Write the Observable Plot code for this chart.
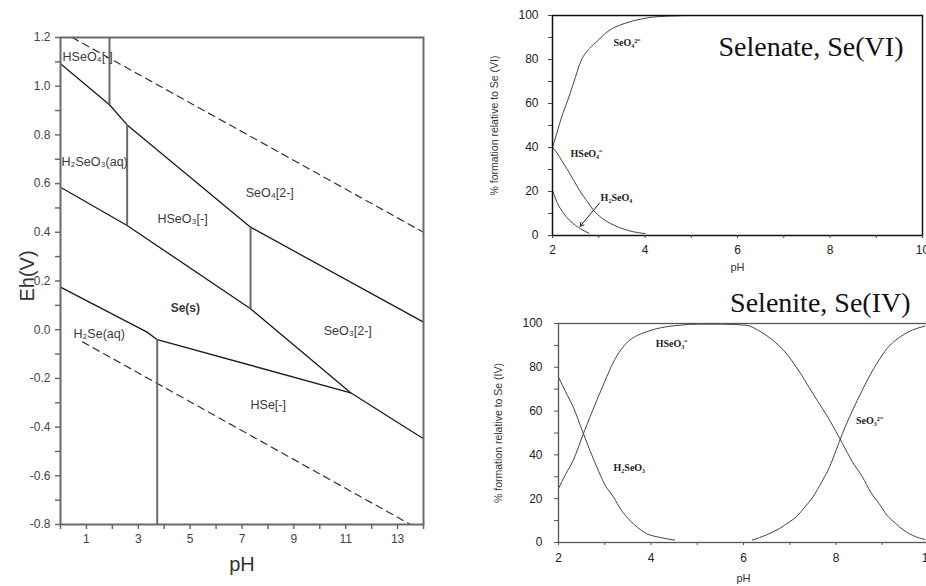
<!DOCTYPE html>
<html><head><meta charset="utf-8">
<script src="https://cdn.jsdelivr.net/npm/d3@7"></script>
<script src="https://cdn.jsdelivr.net/npm/@observablehq/plot@0.6"></script>
<style>
html,body{margin:0;padding:0;background:#fff;overflow:hidden;}
#wrap{position:relative;width:926px;height:586px;overflow:hidden;background:#fff;}
.panel{position:absolute;}
.panel svg{max-width:none;display:block;}
</style></head><body><div id="wrap"></div>
<script>
// ---------- Left panel: Eh–pH (Pourbaix) diagram of Se ----------
const phTickLabels = [1, 3, 5, 7, 9, 11, 13];
const ehTickLabels = [-0.8, -0.6, -0.4, -0.2, 0.0, 0.2, 0.4, 0.6, 0.8, 1.0, 1.2];

const boundary1PH = [0, 1.89, 2.57, 7.33, 14];
const boundary1Eh = [1.092, 0.924, 0.841, 0.421, 0.031];
const boundary2PH = [0, 2.57, 7.33, 11.19, 14];
const boundary2Eh = [0.585, 0.428, 0.086, -0.259, -0.448];
const boundary3PH = [0, 3.34, 3.73, 11.19];
const boundary3Eh = [0.175, -0.010, -0.041, -0.259];

const verticalPH = [1.89, 2.57, 7.33, 3.73];
const verticalEhTop = [1.2, 0.841, 0.421, -0.041];
const verticalEhBottom = [0.924, 0.428, 0.086, -0.8];

const waterUpperPH = [0.45, 14];
const waterUpperEh = [1.2, 0.40];
const waterLowerPH = [0.85, 13.5];
const waterLowerEh = [-0.05, -0.8];

const speciesLabels = ["HSeO₄[-]", "H₂SeO₃(aq)", "SeO₄[2-]", "HSeO₃[-]", "Se(s)", "SeO₃[2-]", "H₂Se(aq)", "HSe[-]"];
const speciesPH = [0.08, 0.04, 7.14, 3.74, 4.25, 10.15, 0.5, 7.33];
const speciesEh = [1.118, 0.687, 0.563, 0.453, 0.087, -0.007, -0.016, -0.311];
const speciesBold = [false, false, false, false, true, false, false, false];

// ---------- Top right: Selenate, Se(VI) speciation ----------
const pctTickLabels = [0, 20, 40, 60, 80, 100];
const phRightTickLabels = [2, 4, 6, 8, 10];

const phSeO4 = [2, 2.1, 2.2, 2.33, 2.45, 2.62, 2.8, 2.98, 3.15, 3.35, 3.55, 3.71, 3.9, 4.07, 4.3, 4.6, 5.0, 10];
const pctSeO4 = [40, 47, 54, 61.5, 69, 79.5, 85, 88.6, 92, 94.7, 96.3, 97.4, 98.3, 99, 99.5, 99.8, 100, 100];
const phHSeO4 = [2, 2.1, 2.2, 2.32, 2.46, 2.6, 2.75, 2.89, 3.05, 3.25, 3.45, 3.65, 3.85, 4.0];
const pctHSeO4 = [40, 37.5, 34, 30, 25, 20, 15.5, 11.4, 8.2, 5.5, 3.6, 2.2, 1.3, 0.9];
const phH2SeO4 = [2, 2.1, 2.25, 2.4, 2.61, 2.79];
const pctH2SeO4 = [20.5, 15, 9.8, 6.3, 3.0, 1.0];

const seVILabels = ["SeO₄²⁻", "HSeO₄⁻", "H₂SeO₄"];
const seVILabelPH = [3.32, 2.39, 3.04];
const seVILabelPct = [87.7, 37.3, 17.3];
const arrowPH = [3.02, 2.6];
const arrowPct = [14.8, 4.2];

// ---------- Bottom right: Selenite, Se(IV) speciation ----------
const phH2SeO3 = [2, 2.15, 2.32, 2.54, 2.83, 3.0, 3.19, 3.35, 3.54, 3.7, 3.9, 4.2, 4.51];
const pctH2SeO3 = [75.5, 69, 61.8, 49.6, 34.4, 26.5, 20.7, 15, 10.2, 7, 4.1, 2.3, 1.1];
const phHSeO3 = [2, 2.15, 2.32, 2.54, 2.83, 3.0, 3.19, 3.35, 3.54, 3.7, 3.9, 4.2, 4.62, 5, 5.5, 6.06, 6.35, 6.63, 6.9, 7.14, 7.5, 7.86, 8.14, 8.35, 8.57, 8.75, 8.93, 9.1, 9.29, 9.47, 9.65, 9.92];
const pctHSeO3 = [24.7, 31, 37.6, 49.8, 65, 73.5, 82.5, 88, 92.4, 94.5, 96.2, 98, 99.2, 99.7, 99.7, 99.2, 96.5, 92.4, 87, 80.2, 68, 55.9, 45.2, 37, 30, 23, 17.8, 12.5, 8.7, 5.5, 3.3, 1.4];
const phSeO3 = [6.19, 6.5, 6.78, 7.0, 7.14, 7.3, 7.5, 7.7, 7.86, 8.0, 8.14, 8.35, 8.57, 8.75, 8.93, 9.1, 9.29, 9.47, 9.65, 9.92];
const pctSeO3 = [1.1, 3.5, 6.4, 9.5, 11.7, 15.5, 20.8, 28, 34.5, 42, 49.8, 60, 69.6, 77, 83.3, 88.5, 92.4, 95, 97, 98.8];

const seIVLabels = ["HSeO₃⁻", "H₂SeO₃", "SeO₃²⁻"];
const seIVLabelPH = [4.10, 3.19, 8.43];
const seIVLabelPct = [90.9, 34.2, 55.7];

// ---------- helpers ----------
const pts = (xs, ys) => xs.map((x, i) => ({x, y: ys[i]}));
const SANS = "'Liberation Sans', Arial, sans-serif";
const SERIF = "'Liberation Serif', 'Times New Roman', serif";
const wrap = document.getElementById("wrap");
function place(svg, left, top) {
  const d = document.createElement("div");
  d.className = "panel";
  d.style.left = left + "px";
  d.style.top = top + "px";
  d.appendChild(svg);
  wrap.appendChild(d);
}

// ---------- Left plot ----------
const boundaryStyle = {x: "x", y: "y", stroke: "#1a1a1a", strokeWidth: 1.3};
const dashStyle = {x: "x", y: "y", stroke: "#333", strokeWidth: 1.2, strokeDasharray: "7,5"};
const speciesData = speciesLabels.map((t, i) => ({t, x: speciesPH[i], y: speciesEh[i], b: speciesBold[i]}));

const left = Plot.plot({
  width: 470, height: 586,
  marginLeft: 60, marginRight: 47, marginTop: 37, marginBottom: 62,
  x: {domain: [0, 14], axis: null, label: null},
  y: {domain: [-0.8, 1.2], axis: null, label: null},
  style: {fontFamily: SANS, background: "transparent", color: "#333", overflow: "visible"},
  marks: [
    Plot.line(pts(waterUpperPH, waterUpperEh), dashStyle),
    Plot.line(pts(waterLowerPH, waterLowerEh), dashStyle),
    Plot.line(pts(boundary1PH, boundary1Eh), boundaryStyle),
    Plot.line(pts(boundary2PH, boundary2Eh), boundaryStyle),
    Plot.line(pts(boundary3PH, boundary3Eh), boundaryStyle),
    Plot.ruleX(verticalPH, {x: d => d, y1: verticalEhTop, y2: verticalEhBottom, stroke: "#6a6a6a", strokeWidth: 2}),
    Plot.text(speciesData.filter(d => !d.b), {x: "x", y: "y", text: "t", textAnchor: "start", fontSize: 12.5, fill: "#3a3a3a"}),
    Plot.text(speciesData.filter(d => d.b), {x: "x", y: "y", text: "t", textAnchor: "start", fontSize: 12, fontWeight: "bold", fill: "#3a3a3a"}),
    Plot.frame({stroke: "#6a6a6a", strokeWidth: 2}),
    Plot.axisX({ticks: d3.range(0, 15), tickSize: 5, tickFormat: () => "", stroke: "#6a6a6a", strokeWidth: 1.5, label: null}),
    Plot.axisX({ticks: phTickLabels, tickSize: 0, tickPadding: 10, fontSize: 12, fill: "#444", label: null}),
    Plot.axisY({ticks: d3.range(-8, 13).map(d => d / 10), tickSize: 5, tickFormat: () => "", stroke: "#6a6a6a", strokeWidth: 1.5, label: null}),
    Plot.axisY({ticks: ehTickLabels, tickSize: 0, tickPadding: 10, tickFormat: d => d.toFixed(1), fontSize: 12, fill: "#444", label: null}),
    Plot.text(["pH"], {frameAnchor: "bottom", dy: 40, textAnchor: "middle", lineAnchor: "middle", fontSize: 20, fill: "#333"}),
    Plot.text(["Eh(V)"], {frameAnchor: "left", dx: -33, dy: -5, rotate: -90, textAnchor: "middle", lineAnchor: "middle", fontSize: 20, fill: "#333"})
  ]
});
place(left, 0, 0);

// ---------- Top right plot ----------
const curveStyle = {x: "x", y: "y", stroke: "#444", strokeWidth: 1, curve: "monotone-x"};
const seVIData = seVILabels.map((t, i) => ({t, x: seVILabelPH[i], y: seVILabelPct[i]}));
const topRight = Plot.plot({
  width: 446, height: 290,
  marginLeft: 72, marginRight: 4, marginTop: 15, marginBottom: 55,
  x: {domain: [2, 10], axis: null, label: null},
  y: {domain: [0, 100], axis: null, label: null},
  style: {fontFamily: SANS, background: "transparent", color: "#222", overflow: "visible"},
  marks: [
    Plot.line(pts(phSeO4, pctSeO4), curveStyle),
    Plot.line(pts(phHSeO4, pctHSeO4), curveStyle),
    Plot.line(pts(phH2SeO4, pctH2SeO4), curveStyle),
    Plot.arrow([{x1: arrowPH[0], y1: arrowPct[0], x2: arrowPH[1], y2: arrowPct[1]}], {x1: "x1", y1: "y1", x2: "x2", y2: "y2", stroke: "#222", strokeWidth: 1, headLength: 6}),
    Plot.text(seVIData, {x: "x", y: "y", text: "t", textAnchor: "start", fontFamily: SERIF, fontWeight: "bold", fontSize: 10, fill: "#222"}),
    Plot.frame({stroke: "#111", strokeWidth: 1.5}),
    Plot.axisX({ticks: d3.range(2, 11), tickSize: 3, tickFormat: () => "", stroke: "#444", label: null}),
    Plot.axisX({ticks: phRightTickLabels, tickSize: 0, tickPadding: 10, fontSize: 12, fill: "#222", label: null}),
    Plot.axisY({ticks: d3.range(0, 101, 10), tickSize: 4, tickFormat: () => "", stroke: "#444", label: null}),
    Plot.axisY({ticks: pctTickLabels, tickSize: 0, tickPadding: 14, fontSize: 12, fill: "#222", label: null}),
    Plot.text(["pH"], {frameAnchor: "bottom", dy: 32, textAnchor: "middle", lineAnchor: "middle", fontSize: 11, fill: "#333"}),
    Plot.text(["% formation relative to Se (VI)"], {frameAnchor: "left", dx: -58, rotate: -90, textAnchor: "middle", lineAnchor: "middle", fontSize: 10.5, fill: "#333"}),
    Plot.text(["Selenate, Se(VI)"], {frameAnchor: "top-right", dx: -19, dy: 32, textAnchor: "end", lineAnchor: "middle", fontFamily: SERIF, fontSize: 28, fill: "#111"})
  ]
});
place(topRight, 480, 0);

// ---------- Bottom right plot ----------
const seIVData = seIVLabels.map((t, i) => ({t, x: seIVLabelPH[i], y: seIVLabelPct[i]}));
const bottomRight = Plot.plot({
  width: 450, height: 296,
  marginLeft: 78, marginRight: 2, marginTop: 33, marginBottom: 44,
  x: {domain: [2, 10], axis: null, label: null},
  y: {domain: [0, 100], axis: null, label: null},
  style: {fontFamily: SANS, background: "transparent", color: "#222", overflow: "visible"},
  marks: [
    Plot.line(pts(phH2SeO3, pctH2SeO3), curveStyle),
    Plot.line(pts(phHSeO3, pctHSeO3), curveStyle),
    Plot.line(pts(phSeO3, pctSeO3), curveStyle),
    Plot.text(seIVData, {x: "x", y: "y", text: "t", textAnchor: "start", fontFamily: SERIF, fontWeight: "bold", fontSize: 10, fill: "#222"}),
    Plot.frame({stroke: "#555", strokeWidth: 1.3}),
    Plot.axisX({ticks: d3.range(2, 11), tickSize: 3, tickFormat: () => "", stroke: "#555", label: null}),
    Plot.axisX({ticks: phRightTickLabels, tickSize: 0, tickPadding: 11, fontSize: 12, fill: "#222", label: null}),
    Plot.axisY({ticks: d3.range(0, 101, 10), tickSize: 4, tickFormat: () => "", stroke: "#555", label: null}),
    Plot.axisY({ticks: pctTickLabels, tickSize: 0, tickPadding: 16, fontSize: 12, fill: "#222", label: null}),
    Plot.text(["pH"], {frameAnchor: "bottom", dy: 36, textAnchor: "middle", lineAnchor: "middle", fontSize: 11, fill: "#333"}),
    Plot.text(["% formation relative to Se (IV)"], {frameAnchor: "left", dx: -60, rotate: -90, textAnchor: "middle", lineAnchor: "middle", fontSize: 10.5, fill: "#333"}),
    Plot.text(["Selenite, Se(IV)"], {frameAnchor: "top-right", dx: -18, dy: -20, textAnchor: "end", lineAnchor: "middle", fontFamily: SERIF, fontSize: 28, fill: "#111"})
  ]
});
place(bottomRight, 480, 290);
</script></body></html>
